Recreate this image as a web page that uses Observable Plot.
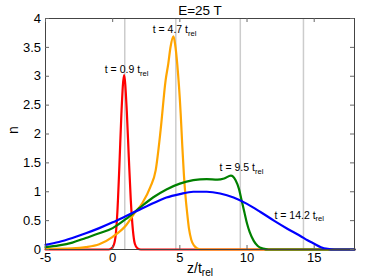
<!DOCTYPE html>
<html><head><meta charset="utf-8">
<script src="https://cdn.jsdelivr.net/npm/d3@7"></script>
<script src="https://cdn.jsdelivr.net/npm/@observablehq/plot@0.6"></script>
<style>body{margin:0;background:#fff}</style>
</head><body><div id="chart"></div>
<script>
const title = "E=25 T";
const xLabel = "z/t_rel";
const yLabel = "n";
const xTicks = [-5, 0, 5, 10, 15];
const yTicks = [0, 0.5, 1, 1.5, 2, 2.5, 3, 3.5, 4];
const times = [0.9, 4.7, 9.5, 14.2];
const seriesColors = ["#ff0000", "#ffa500", "#008000", "#0000ff"];
const labelText = ["t = 0.9 t_rel", "t = 4.7 t_rel", "t = 9.5 t_rel", "t = 14.2 t_rel"];
const labelZ = [-0.59, 2.98, 7.96, 12.04];
const labelN = [3.11, 3.80, 1.41, 0.59];

const zRed = [-5, -0.3, 0, 0.2, 0.35, 0.5, 0.65, 0.85, 1.05, 1.2, 1.35, 1.5, 1.65, 1.85, 2.1, 18];
const nRed = [0, 0, 0.04, 0.2, 0.65, 1.45, 2.35, 3.02, 2.4, 1.6, 0.85, 0.35, 0.1, 0.02, 0, 0];

const zOrange = [-5, -3, -2, -1, 0, 1, 1.6, 2.2, 2.8, 3.2, 3.57, 3.94, 4.14, 4.31, 4.52, 4.65, 4.81, 5.06, 5.18, 5.3, 5.43, 5.56, 5.68, 5.85, 6.05, 6.3, 6.6, 18];
const nOrange = [0.01, 0.02, 0.04, 0.09, 0.22, 0.42, 0.62, 0.8, 1.08, 1.37, 2.07, 2.93, 3.22, 3.51, 3.69, 3.55, 3.2, 2.36, 1.8, 1.3, 0.9, 0.6, 0.36, 0.17, 0.07, 0.02, 0, 0];

const zGreen = [-5, -4, -3, -2, -1, 0, 1, 2, 3, 4, 5, 6, 7, 7.8, 8.3, 8.8, 9.15, 9.4, 9.6, 9.8, 10.0, 10.2, 10.5, 10.8, 11.2, 11.6, 18];
const nGreen = [0.04, 0.07, 0.12, 0.2, 0.28, 0.37, 0.53, 0.72, 0.9, 1.04, 1.14, 1.2, 1.22, 1.21, 1.23, 1.28, 1.2, 1.05, 0.85, 0.65, 0.45, 0.3, 0.15, 0.06, 0.015, 0, 0];

const zBlue = [-5, -4, -3, -2, -1, 0, 1, 2, 3, 4, 5, 6, 7, 8, 9, 10, 11, 12, 13, 14, 14.5, 15, 15.5, 16, 16.5, 18];
const nBlue = [0.08, 0.13, 0.2, 0.28, 0.37, 0.47, 0.58, 0.69, 0.8, 0.9, 0.96, 1.0, 1.0, 0.97, 0.9, 0.79, 0.65, 0.5, 0.36, 0.23, 0.16, 0.1, 0.04, 0.01, 0, 0];

const W = 371, H = 278, mL = 45, mR = 17, mT = 18, mB = 29;
const plotW = W - mL - mR, plotH = H - mT - mB, tickLen = 4;
const toRows = (zs, ns) => zs.map((z, i) => ({z, n: ns[i]}));
const series = [toRows(zRed, nRed), toRows(zOrange, nOrange), toRows(zGreen, nGreen), toRows(zBlue, nBlue)];
const labels = labelText.map((t, i) => ({t, z: labelZ[i], n: labelN[i]}));

const chart = Plot.plot({
  width: W, height: H,
  marginLeft: mL, marginRight: mR, marginTop: mT, marginBottom: mB,
  x: {domain: [-5, 18]},
  y: {domain: [0, 4]},
  style: {fontFamily: "'Liberation Sans', Arial, sans-serif", fontSize: "13px", color: "#000", background: "#fff"},
  marks: [
    Plot.ruleX(times, {x: d => d, stroke: "#cccccc", strokeWidth: 1.5}),
    ...series.map((rows, i) => Plot.line(rows, {x: "z", y: "n", stroke: seriesColors[i], strokeWidth: 2.2, curve: "monotone-x"})),
    Plot.frame({stroke: "#444", strokeWidth: 1}),
    Plot.ruleX(xTicks, {x: d => d, insetTop: plotH - tickLen, stroke: "#666"}),
    Plot.ruleX(xTicks, {x: d => d, insetBottom: plotH - tickLen, stroke: "#666"}),
    Plot.ruleY(yTicks, {y: d => d, insetRight: plotW - tickLen, stroke: "#666"}),
    Plot.ruleY(yTicks, {y: d => d, insetLeft: plotW - tickLen, stroke: "#666"}),
    Plot.axisX({ticks: xTicks, tickFormat: d => String(d), tickSize: 0, tickPadding: 3.5, label: null, fontSize: 13}),
    Plot.axisY({ticks: yTicks, tickFormat: d => String(d), tickSize: 0, tickPadding: 4.5, label: null, fontSize: 13}),
    Plot.text(labels, {x: "z", y: "n", text: "t", textAnchor: "start", lineAnchor: "middle", fontSize: 10.5}),
    Plot.text([title], {text: d => d, frameAnchor: "top", dy: -8, lineAnchor: "middle", fontSize: 13.5}),
    Plot.text([xLabel], {text: d => d, frameAnchor: "bottom", dy: 19, lineAnchor: "middle", fontSize: 14}),
    Plot.text([yLabel], {text: d => d, frameAnchor: "left", dx: -32, rotate: -90, lineAnchor: "middle", fontSize: 14})
  ]
});

chart.querySelectorAll("text").forEach(t => {
  if (t.children.length === 0 && t.textContent.includes("_")) {
    const [a, b] = t.textContent.split("_");
    t.textContent = a;
    const ts = document.createElementNS("http://www.w3.org/2000/svg", "tspan");
    ts.setAttribute("dy", "0.3em");
    ts.style.fontSize = "72%";
    ts.textContent = b;
    t.appendChild(ts);
  }
});
document.getElementById("chart").appendChild(chart);
</script>
</body></html>
